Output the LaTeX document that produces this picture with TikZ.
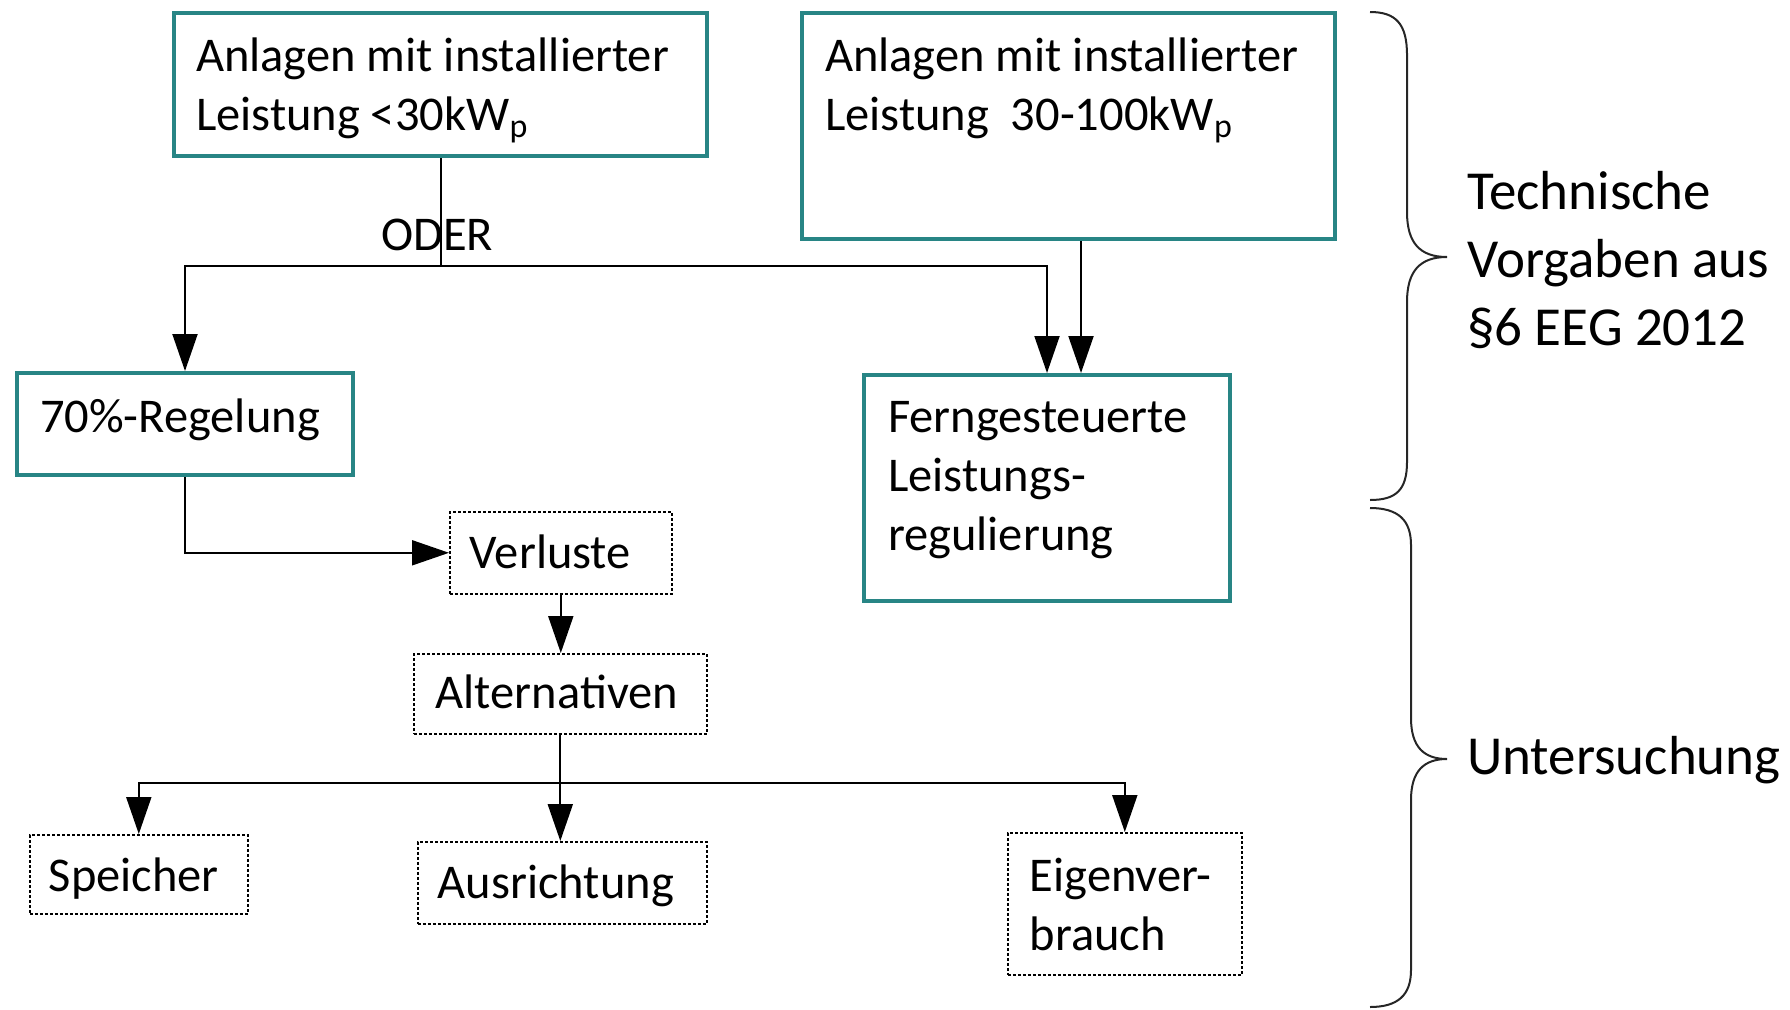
\documentclass[tikz,border=0pt]{standalone}
\usepackage{fontspec}
\setmainfont{Carlito}
\usetikzlibrary{arrows.meta}
\definecolor{tealbox}{RGB}{40,133,133}
\newcommand{\bfnt}{\fontsize{48.5}{59}\selectfont}
\newcommand{\rfnt}{\fontsize{55}{68}\selectfont}
\newcommand{\btxt}[4]{\parbox[b][#2][t]{#1}{\vspace*{#3}\raggedright\strut #4}}
\begin{document}
\begin{tikzpicture}[x=1pt,y=-1pt,
  tbox/.style={draw=tealbox, line width=4pt, inner ysep=0pt, anchor=north west, font=\bfnt},
  dbox/.style={draw=black, line width=1.6pt, dash pattern=on 3pt off 2pt, inner ysep=0pt, anchor=north west, font=\bfnt},
  conn/.style={draw=black, line width=2pt},
  arr/.style={conn, -{Triangle[length=37pt,width=25pt]}},
  brace/.style={draw=black!85, line width=2pt},
  lbl/.style={inner sep=0pt, anchor=base west}
  ]
\useasboundingbox (0,0) rectangle (1790,1009);

% teal boxes
\node[tbox, inner xsep=22pt] (a1) at (172,11) {\btxt{489pt}{143pt}{16.7pt}{Anlagen mit installierter\\Leistung <30kW\textsubscript{p}}};
\node[tbox, inner xsep=23pt] (a2) at (800,11) {\btxt{487pt}{226pt}{16.7pt}{Anlagen mit installierter\\Leistung\ \ 30-100kW\textsubscript{p}}};
\node[tbox, inner xsep=23pt] (r70) at (15,371) {\btxt{290pt}{102pt}{17.7pt}{70\%-Regelung}};
\node[tbox, inner xsep=24pt] (fern) at (862,373) {\btxt{318pt}{226pt}{15.7pt}{Ferngesteuerte\\Leistungs-\\regulierung}};

% dashed boxes
\node[dbox, inner xsep=20pt] (verl) at (449,511) {\btxt{182pt}{82pt}{15.7pt}{Verluste}};
\node[dbox, inner xsep=22pt] (alt) at (413,653) {\btxt{249pt}{80pt}{13.7pt}{Alternativen}};
\node[dbox, inner xsep=19pt] (spei) at (29,834) {\btxt{180pt}{79pt}{15.7pt}{Speicher}};
\node[dbox, inner xsep=20pt] (ausr) at (417,841) {\btxt{249pt}{82pt}{15.7pt}{Ausrichtung}};
\node[dbox, inner xsep=22pt] (eigen) at (1007,832) {\btxt{190pt}{142pt}{17.7pt}{Eigenver-\\brauch}};

% labels
\node[lbl, font=\bfnt] (oder) at (381,250) {ODER};
\node[lbl, font=\rfnt] (tv) at (1467,209) {\parbox[t]{320pt}{\raggedright\strut Technische\\Vorgaben aus\\§6 EEG 2012}};
\node[lbl, font=\rfnt] (unt) at (1467,774) {Untersuchung};

% connectors
\coordinate (ojy) at (0,266);
\coordinate (oj) at (a1.south |- ojy);
\draw[conn] (a1.south) -- (oj);
\draw[arr] (oj) -| (r70.north);
\draw[arr] (oj) -| (fern.north);
\draw[arr] ([xshift=12.5pt]a2.south) -- ([xshift=34pt]fern.north);
\draw[arr] (r70.south) |- (verl.west);
\draw[arr] (verl.south) -- (verl.south |- alt.north);
\draw[arr] (alt.south) -- (alt.south |- ausr.north);
\coordinate (bjy) at (0,783);
\coordinate (bj) at (alt.south |- bjy);
\draw[arr] (bj) -| (spei.north);
\draw[arr] (bj) -| (eigen.north);

% braces
\draw[brace] (1370,12) .. controls (1396,12) and (1407,24) .. (1407,55) -- (1407,212)
  .. controls (1407,243) and (1420,257) .. (1447,257)
  .. controls (1420,257) and (1407,271) .. (1407,302) -- (1407,462)
  .. controls (1407,490) and (1396,500) .. (1370,500);
\draw[brace] (1370,508) .. controls (1398,508) and (1411,520) .. (1411,545) -- (1411,718)
  .. controls (1411,747) and (1424,759) .. (1447,759)
  .. controls (1424,759) and (1411,771) .. (1411,800) -- (1411,970)
  .. controls (1411,995) and (1398,1007) .. (1370,1007);
\end{tikzpicture}
\end{document}
